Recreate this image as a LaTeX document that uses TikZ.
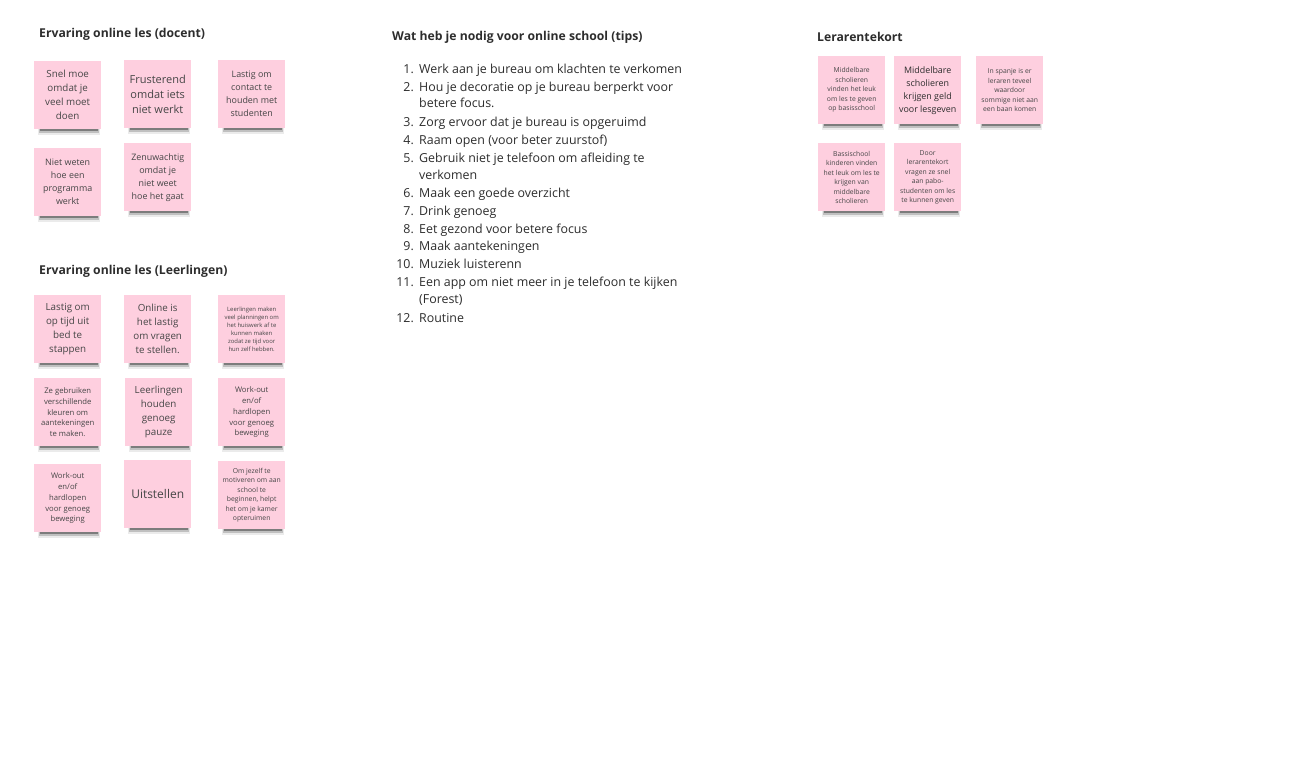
\documentclass[tikz,border=0pt]{standalone}
\usepackage{fontspec}
\setmainfont{Open Sans}
\usetikzlibrary{shadows}
\definecolor{notepink}{RGB}{254,207,223}
\definecolor{notetext}{RGB}{70,70,70}
\definecolor{headtext}{RGB}{45,45,45}
\tikzset{
  note/.style={anchor=north west, fill=notepink, minimum width=67, minimum height=68,
    inner sep=1, align=center, text=notetext,
    general shadow={fill=black, opacity=.08, shadow scale=.93, shadow xshift=1.5pt, shadow yshift=-9pt},
    general shadow={fill=black, opacity=.18, shadow scale=.9, shadow xshift=1.5pt, shadow yshift=-8pt},
    general shadow={fill=black, opacity=.35, shadow scale=.87, shadow xshift=1.5pt, shadow yshift=-7pt}},
  fl/.style={font=\fontsize{11}{15}\selectfont},
  fm/.style={font=\fontsize{9.8}{14}\selectfont},
  fs/.style={font=\fontsize{8.9}{13}\selectfont},
  fx/.style={font=\fontsize{7.7}{10.8}\selectfont},
  fxx/.style={font=\fontsize{6.8}{9.5}\selectfont},
  ftiny/.style={font=\fontsize{5.9}{8}\selectfont},
  heading/.style={anchor=west, inner sep=0, text=headtext, font=\fontsize{12.2}{14}\selectfont\bfseries},
  tip/.style={anchor=base west, inner sep=0, text=headtext, font=\fontsize{12.4}{15}\selectfont},
  tipnr/.style={anchor=base east, inner sep=0, text=headtext, font=\fontsize{12.4}{15}\selectfont}
}
\begin{document}
\begin{tikzpicture}[x=1pt,y=-1pt]
\useasboundingbox[fill=white] (0,0) rectangle (1295,771);

% ervaring docent
\node[heading] (hdocent) at (39,34) {Ervaring online les (docent)};
\node[note,fm] (d1) at (34,61) {Snel moe\\omdat je\\veel moet\\doen};
\node[note,fl] (d2) at (124,60) {Frusterend\\omdat iets\\niet werkt};
\node[note,fs] (d3) at (218,60) {Lastig om\\contact te\\houden met\\studenten};
\node[note,fs] (d4) at (34,148) {Niet weten\\hoe een\\programma\\werkt};
\node[note,fs] (d5) at (124,143) {Zenuwachtig\\omdat je\\niet weet\\hoe het gaat};

% ervaring leerlingen
\node[heading] (hleerling) at (39,271) {Ervaring online les (Leerlingen)};
\node[note,fm] (l1) at (34,295) {Lastig om\\op tijd uit\\bed te\\stappen};
\node[note,fm] (l2) at (124,295) {Online is\\het lastig\\om vragen\\te stellen.};
\node[note,ftiny] (l3) at (218,295) {Leerlingen maken\\veel planningen om\\het huiswerk af te\\kunnen maken\\zodat ze tijd voor\\hun zelf hebben.};
\node[note,fx] (l4) at (34,378) {Ze gebruiken\\verschillende\\kleuren om\\aantekeningen\\te maken.};
\node[note,fm] (l5) at (125,378) {Leerlingen\\houden\\genoeg\\pauze};
\node[note,fx] (l6) at (218,378) {Work-out\\en/of\\hardlopen\\voor genoeg\\beweging};
\node[note,fx] (l7) at (34,464) {Work-out\\en/of\\hardlopen\\voor genoeg\\beweging};
\node[note,font=\fontsize{12}{15}\selectfont] (l8) at (124,460) {Uitstellen};
\node[note,fxx] (l9) at (218,461) {Om jezelf te\\motiveren om aan\\school te\\beginnen, helpt\\het om je kamer\\opteruimen};

% tips
\node[heading] (htips) at (392,37) {Wat heb je nodig voor online school (tips)};
\node[tipnr] (n1) at (414,73) {1.};
\node[tip] (t1) at (419,73) {Werk aan je bureau om klachten te verkomen};
\node[tipnr] (n2) at (414,91) {2.};
\node[tip] (t2) at (419,91) {Hou je decoratie op je bureau berperkt voor};
\node[tip] (t2b) at (419,107) {betere focus.};
\node[tipnr] (n3) at (414,126) {3.};
\node[tip] (t3) at (419,126) {Zorg ervoor dat je bureau is opgeruimd};
\node[tipnr] (n4) at (414,144) {4.};
\node[tip] (t4) at (419,144) {Raam open (voor beter zuurstof)};
\node[tipnr] (n5) at (414,162) {5.};
\node[tip] (t5) at (419,162) {Gebruik niet je telefoon om afleiding te};
\node[tip] (t5b) at (419,179) {verkomen};
\node[tipnr] (n6) at (414,197) {6.};
\node[tip] (t6) at (419,197) {Maak een goede overzicht};
\node[tipnr] (n7) at (414,215) {7.};
\node[tip] (t7) at (419,215) {Drink genoeg};
\node[tipnr] (n8) at (414,233) {8.};
\node[tip] (t8) at (419,233) {Eet gezond voor betere focus};
\node[tipnr] (n9) at (414,250) {9.};
\node[tip] (t9) at (419,250) {Maak aantekeningen};
\node[tipnr] (n10) at (414,268) {10.};
\node[tip] (t10) at (419,268) {Muziek luisterenn};
\node[tipnr] (n11) at (414,286) {11.};
\node[tip] (t11) at (419,286) {Een app om niet meer in je telefoon te kijken};
\node[tip] (t11b) at (419,303) {(Forest)};
\node[tipnr] (n12) at (414,322) {12.};
\node[tip] (t12) at (419,322) {Routine};

% lerarentekort
\node[heading] (hleraar) at (817,37) {Lerarentekort};
\node[note,fxx] (k1) at (818,56) {Middelbare\\scholieren\\vinden het leuk\\om les te geven\\op basisschool};
\node[note,fs,text=headtext] (k2) at (894,56) {Middelbare\\scholieren\\krijgen geld\\voor lesgeven};
\node[note,fxx] (k3) at (976,56) {In spanje is er\\leraren teveel\\waardoor\\sommige niet aan\\een baan komen};
\node[note,fxx] (k4) at (818,143) {Bassischool\\kinderen vinden\\het leuk om les te\\krijgen van\\middelbare\\scholieren};
\node[note,fxx] (k5) at (894,143) {Door\\lerarentekort\\vragen ze snel\\aan pabo-\\studenten om les\\te kunnen geven};
\end{tikzpicture}
\end{document}
